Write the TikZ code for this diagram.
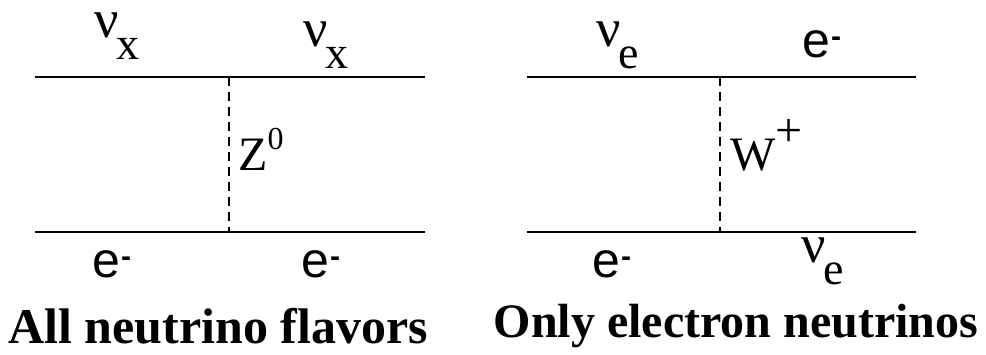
\documentclass[tikz,border=0pt]{standalone}
\usepackage{fontspec}
\setmainfont{Liberation Serif}
\newfontfamily\labsans{Liberation Sans}
\newcommand{\nusub}[1]{\raisebox{0pt}[26pt][0pt]{\fontsize{54}{54}\selectfont ν}\kern-2pt\raisebox{-22pt}{#1}}
\newcommand{\elec}{{\labsans e\kern1pt\raisebox{0.22em}{\fontsize{30}{30}\selectfont\bfseries -}}}
\tikzset{
  fermion/.style={line width=2pt},
  boson/.style={line width=1.6pt,dash pattern=on 9pt off 6pt},
  lab/.style={inner sep=0pt,anchor=base west,font=\fontsize{46}{46}\selectfont},
  elab/.style={inner sep=0pt,anchor=base west,font=\fontsize{50}{50}\selectfont},
  prop/.style={inner sep=0pt,anchor=base west,font=\fontsize{48}{48}\selectfont},
  caption/.style={inner sep=0pt,font=\bfseries}
}

\begin{document}
\begin{tikzpicture}[x=1pt,y=-1pt]
  \useasboundingbox (0,0) rectangle (986,354);
  % neutral current: Z exchange
  \coordinate (zinA) at (35,77);
  \coordinate (zoutA) at (425,77);
  \coordinate (zinB) at (35,232);
  \coordinate (zoutB) at (425,232);
  \coordinate (zvA) at (229,77);
  \coordinate (zvB) at (229,232);
  \draw[fermion] (zinA) -- (zoutA);
  \draw[fermion] (zinB) -- (zoutB);
  \draw[boson] (zvA) -- (zvB);
  \node[lab] (nuxin) at (94,37) {\nusub{x}};
  \node[lab] (nuxout) at (303,46) {\nusub{x}};
  \node[elab] (ezin) at (92,277) {\elec};
  \node[elab] (ezout) at (301,277) {\elec};
  \node[prop] (zlab) at (238,170) {Z\raisebox{0.42em}{\fontsize{32}{32}\selectfont 0}};
  \node[caption,font=\fontsize{50}{50}\selectfont\bfseries] (allcap) at (218,326) {All neutrino flavors};
  % charged current: W exchange
  \coordinate (winA) at (527,77);
  \coordinate (woutA) at (916,77);
  \coordinate (winB) at (527,232);
  \coordinate (woutB) at (916,232);
  \coordinate (wvA) at (720,77);
  \coordinate (wvB) at (720,232);
  \draw[fermion] (winA) -- (woutA);
  \draw[fermion] (winB) -- (woutB);
  \draw[boson] (wvA) -- (wvB);
  \node[lab] (nuein) at (596,46) {\nusub{e}};
  \node[elab] (ewout) at (802,57) {\elec};
  \node[elab] (ewin) at (592,277) {\elec};
  \node[lab] (nueout) at (801,262) {\nusub{e}};
  \node[prop] (wlab) at (730,170) {W\raisebox{0.48em}{+}};
  \node[caption,font=\fontsize{48}{48}\selectfont\bfseries] (onlycap) at (736,326) {Only electron neutrinos};
\end{tikzpicture}
\end{document}
